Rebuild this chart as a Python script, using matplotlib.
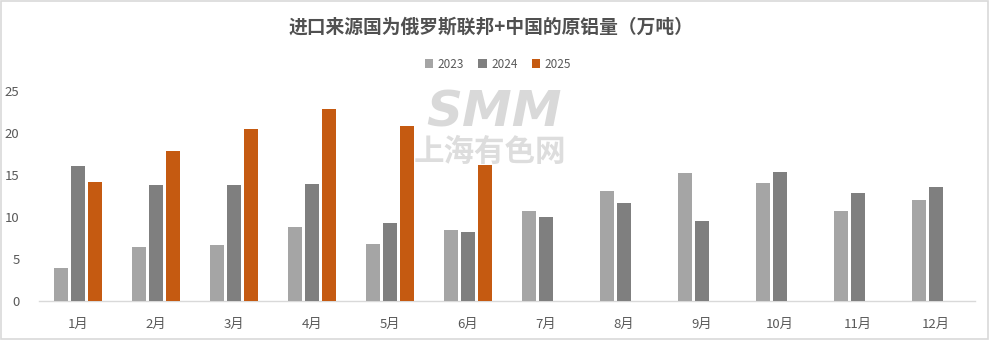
import matplotlib
matplotlib.use("Agg")
import matplotlib.pyplot as plt
import numpy as np
from matplotlib.patches import Rectangle

plt.rcParams['font.family'] = ['Noto Sans CJK SC', 'DejaVu Sans']

months = ["1月", "2月", "3月", "4月", "5月", "6月", "7月", "8月", "9月", "10月", "11月", "12月"]
v2023 = [3.9, 6.4, 6.7, 8.8, 6.8, 8.4, 10.7, 13.1, 15.2, 14.1, 10.7, 12.0]
v2024 = [16.1, 13.8, 13.8, 13.9, 9.3, 8.2, 10.0, 11.7, 9.5, 15.3, 12.8, 13.6]
v2025 = [14.2, 17.9, 20.5, 22.9, 20.8, 16.2, np.nan, np.nan, np.nan, np.nan, np.nan, np.nan]
series_names = ["2023", "2024", "2025"]
colors = ["#A5A5A5", "#7F7F7F", "#C55A11"]
title = "进口来源国为俄罗斯联邦+中国的原铝量（万吨）"

fig = plt.figure(figsize=(9.9, 3.4), dpi=100)
fig.patches.append(Rectangle((0.001, 0.002), 0.997, 0.995, transform=fig.transFigure,
                             fill=False, edgecolor="#D9D9D9", linewidth=1.2))

ax = fig.add_axes([39/990, 1 - 301/340, 936/990, 210/340])
x = np.arange(len(months))
step = 0.222
width = 0.175
for i, (vals, name, c) in enumerate(zip([v2023, v2024, v2025], series_names, colors)):
    ax.bar(x + (i - 1) * step, vals, width=width, color=c, label=name, zorder=3)

ax.set_xlim(-0.5, len(months) - 0.5)
ax.set_ylim(0, 25)
ax.set_yticks([0, 5, 10, 15, 20, 25])
ax.set_xticks(x)
ax.set_xticklabels(months)
for s in ["top", "right", "left"]:
    ax.spines[s].set_visible(False)
ax.spines["bottom"].set_color("#D9D9D9")
ax.spines["bottom"].set_linewidth(1.0)
ax.tick_params(axis="both", length=0, colors="#595959", labelsize=9.5)
ax.tick_params(axis="x", pad=12)
ax.tick_params(axis="y", pad=14)

# watermark
fig.text(494/990, 1 - 113/340, "SMM", ha="center", va="center", fontsize=36,
         fontweight="heavy", color="#D9D9D9", family=["DejaVu Sans"], zorder=0,
         fontstyle="italic")
fig.text(490/990, 1 - 152/340, "上海有色网", ha="center", va="center", fontsize=22,
         fontweight="bold", color="#DDDDDD", zorder=0)
ax.set_zorder(1)
ax.patch.set_alpha(0)

fig.text(491/990, 1 - 27/340, title, ha="center", va="center", fontsize=13.5,
         fontweight="bold", color="#505050")

leg = fig.legend(loc="center", bbox_to_anchor=(498/990, 1 - 64/340), ncol=3, frameon=False,
                 fontsize=8.5, handlelength=0.7, handleheight=0.7, handletextpad=0.4,
                 columnspacing=1.2)
for t in leg.get_texts():
    t.set_color("#595959")

fig.savefig("out.png", dpi=100)
